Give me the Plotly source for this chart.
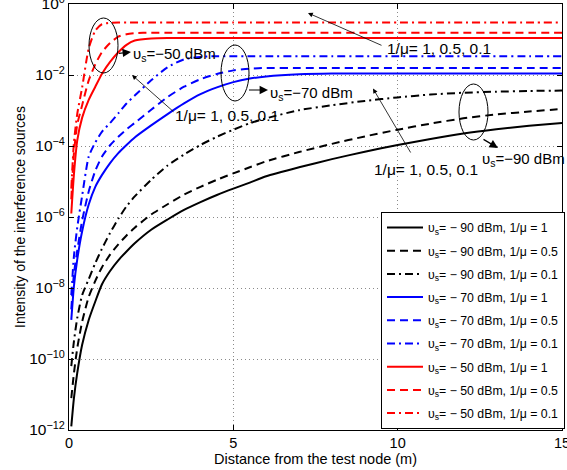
import plotly.graph_objects as go

# Distance from the test node (m)
distance = [0.07, 0.15, 0.25, 0.4, 0.6, 0.8, 1.0, 1.25, 1.5, 1.75, 2.0, 2.5, 3.0, 3.5,
            4.0, 4.5, 5.0, 5.5, 6.0, 7.0, 8.0, 9.0, 10.0, 11.0, 12.0, 13.0, 14.0, 15.0]

# Intensity of the interference sources, one list per (upsilon_s, 1/mu) pair
m90_mu1 = [1.26e-12, 7.94e-12, 3.98e-11, 2.51e-10, 1.26e-9, 4.17e-9, 1.26e-8, 3.02e-8, 6.03e-8, 1.07e-7,
           1.82e-7, 4.37e-7, 8.51e-7, 1.58e-6, 2.63e-6, 4.17e-6, 6.31e-6, 9.33e-6, 1.41e-5, 2.51e-5,
           4.27e-5, 6.92e-5, 1.07e-4, 1.58e-4, 2.24e-4, 2.95e-4, 3.72e-4, 4.47e-4]
m90_mu05 = [7.94e-12, 3.98e-11, 2.0e-10, 1.12e-9, 5.62e-9, 1.58e-8, 3.80e-8, 8.71e-8, 1.70e-7, 3.02e-7,
            5.01e-7, 1.17e-6, 2.29e-6, 4.27e-6, 7.08e-6, 1.12e-5, 1.70e-5, 2.51e-5, 3.72e-5, 6.76e-5,
            1.15e-4, 1.86e-4, 2.88e-4, 4.27e-4, 6.03e-4, 7.76e-4, 9.33e-4, 1.10e-3]
m90_mu01 = [6.31e-11, 3.16e-10, 1.41e-9, 6.31e-9, 1.78e-8, 5.01e-8, 1.26e-7, 3.55e-7, 8.91e-7, 2.0e-6,
            3.80e-6, 1.12e-5, 2.82e-5, 5.75e-5, 1.07e-4, 1.82e-4, 2.88e-4, 4.37e-4, 6.03e-4, 1.02e-3,
            1.41e-3, 1.86e-3, 2.34e-3, 2.82e-3, 3.16e-3, 3.39e-3, 3.55e-3, 3.63e-3]
m70_mu1 = [1.26e-9, 1.12e-8, 6.31e-8, 3.98e-7, 2.24e-6, 7.08e-6, 1.51e-5, 3.31e-5, 6.31e-5, 1.07e-4,
           1.74e-4, 3.80e-4, 7.94e-4, 1.58e-3, 2.88e-3, 4.47e-3, 6.31e-3, 7.94e-3, 9.12e-3, 1.05e-2,
           1.10e-2, 1.10e-2, 1.10e-2, 1.10e-2, 1.10e-2, 1.10e-2, 1.10e-2, 1.10e-2]
m70_mu05 = [2.51e-9, 2.51e-8, 1.12e-7, 7.94e-7, 5.25e-6, 2.0e-5, 5.01e-5, 1.05e-4, 1.82e-4, 2.95e-4,
            4.47e-4, 1.05e-3, 2.40e-3, 4.68e-3, 7.59e-3, 1.07e-2, 1.35e-2, 1.51e-2, 1.58e-2, 1.58e-2,
            1.58e-2, 1.58e-2, 1.58e-2, 1.58e-2, 1.58e-2, 1.58e-2, 1.58e-2, 1.58e-2]
m70_mu01 = [6.31e-9, 7.94e-8, 5.01e-7, 3.98e-6, 5.01e-5, 1.26e-4, 2.51e-4, 4.47e-4, 8.32e-4, 1.58e-3,
            2.63e-3, 7.08e-3, 1.66e-2, 2.75e-2, 3.24e-2, 3.39e-2, 3.39e-2, 3.39e-2, 3.39e-2, 3.39e-2,
            3.39e-2, 3.39e-2, 3.39e-2, 3.39e-2, 3.39e-2, 3.39e-2, 3.39e-2, 3.39e-2]
m50_mu1 = [1.26e-6, 1.58e-5, 1.41e-4, 6.31e-4, 2.0e-3, 4.68e-3, 1.07e-2, 2.34e-2, 4.37e-2, 7.08e-2,
           9.33e-2, 0.107, 0.110, 0.110, 0.110, 0.110, 0.110, 0.110, 0.110, 0.110,
           0.110, 0.110, 0.110, 0.110, 0.110, 0.110, 0.110, 0.110]
m50_mu05 = [3.16e-6, 6.31e-5, 3.98e-4, 1.41e-3, 7.08e-3, 2.0e-2, 4.37e-2, 7.94e-2, 0.120, 0.141,
            0.151, 0.155, 0.155, 0.155, 0.155, 0.155, 0.155, 0.155, 0.155, 0.155,
            0.155, 0.155, 0.155, 0.155, 0.155, 0.155, 0.155, 0.155]
m50_mu01 = [6.31e-6, 1.26e-4, 7.94e-4, 4.47e-3, 5.62e-2, 0.178, 0.269, 0.295, 0.302, 0.302,
            0.302, 0.302, 0.302, 0.302, 0.302, 0.302, 0.302, 0.302, 0.302, 0.302,
            0.302, 0.302, 0.302, 0.302, 0.302, 0.302, 0.302, 0.302]

legend_names = [
    "υ<sub>s</sub>= − 90 dBm, 1/μ = 1",
    "υ<sub>s</sub>= − 90 dBm, 1/μ = 0.5",
    "υ<sub>s</sub>= − 90 dBm, 1/μ = 0.1",
    "υ<sub>s</sub>= − 70 dBm, 1/μ = 1",
    "υ<sub>s</sub>= − 70 dBm, 1/μ = 0.5",
    "υ<sub>s</sub>= − 70 dBm, 1/μ = 0.1",
    "υ<sub>s</sub>= − 50 dBm, 1/μ = 1",
    "υ<sub>s</sub>= − 50 dBm, 1/μ = 0.5",
    "υ<sub>s</sub>= − 50 dBm, 1/μ = 0.1",
]
series = [m90_mu1, m90_mu05, m90_mu01, m70_mu1, m70_mu05, m70_mu01, m50_mu1, m50_mu05, m50_mu01]

x_ticks = [0, 5, 10, 15]
y_ticks = [1e-12, 1e-10, 1e-8, 1e-6, 1e-4, 1e-2, 1]
y_ticktext = ["10<sup>−12</sup>", "10<sup>−10</sup>", "10<sup>−8</sup>", "10<sup>−6</sup>",
              "10<sup>−4</sup>", "10<sup>−2</sup>", "10<sup>0</sup>"]

COLORS = ["#000000"] * 3 + ["#0000ff"] * 3 + ["#ff0000"] * 3
DASHES = ["solid", "8px,5px", "8px,4px,2px,4px"] * 3

FONT = "Liberation Sans, Arial, Helvetica, sans-serif"

fig = go.Figure()
for i, (name, vals) in enumerate(zip(legend_names, series)):
    fig.add_trace(go.Scatter(
        x=distance, y=vals, name=name, mode="lines",
        line=dict(color=COLORS[i], width=2, dash=DASHES[i], shape="spline", smoothing=0.6),
        legendgroup=f"g{i}",
    ))

# plot-area geometry in canvas pixels
L, R, T, B = 69, 562, 4, 430


def px(x, y):
    return (x - L) / (R - L), (B - y) / (B - T)


annotations = []


def arrow(head, tail, size=1.0, width=1.0, style=2):
    hx, hy = px(*head)
    annotations.append(dict(
        x=hx, y=hy, xref="paper", yref="paper", text="", showarrow=True,
        ax=tail[0] - head[0], ay=tail[1] - head[1], axref="pixel", ayref="pixel",
        arrowhead=style, arrowsize=size, arrowwidth=width, arrowcolor="black", standoff=0,
    ))


def label(text, left, mid, size):
    lx, ly = px(left, mid)
    annotations.append(dict(
        x=lx, y=ly, xref="paper", yref="paper", text=text, showarrow=False,
        xanchor="left", yanchor="middle", font=dict(family=FONT, size=size, color="black"),
    ))


# upsilon_s callouts
arrow((131, 52), (117.5, 53.5), size=1.4, width=1.2)
arrow((268, 90), (247.5, 90), size=1.4, width=1.2)
arrow((498, 148), (482, 138.5), size=1.4, width=1.2)
label("υ<sub>s</sub>=−50 dBm", 131, 55, 15)
label("υ<sub>s</sub>=−70 dBm", 268, 93, 15)
label("υ<sub>s</sub>=−90 dBm", 480, 160, 15)

# 1/mu callouts
arrow((308, 13), (383, 46), size=1.2, width=0.8)
arrow((132, 75), (175, 113), size=1.2, width=0.8)
arrow((373, 88.5), (411.5, 154), size=1.2, width=0.8)
label("1/μ= 1, 0.5, 0.1", 385, 49, 15.5)
label("1/μ= 1, 0.5, 0.1", 173, 115, 15.5)
label("1/μ= 1, 0.5, 0.1", 372, 170, 15.5)

shapes = []
for x0, x1, y0, y1 in [(89, 118, 18, 73), (221, 249, 45, 101), (459, 488, 84, 140)]:
    a0, b0 = px(x0, y1)
    a1, b1 = px(x1, y0)
    shapes.append(dict(type="circle", xref="paper", yref="paper", x0=a0, x1=a1, y0=b0, y1=b1,
                       line=dict(color="black", width=1)))

lx, ly = px(381, 212)

fig.update_layout(
    width=567, height=470,
    margin=dict(l=L, r=567 - R, t=T, b=470 - B, autoexpand=False),
    paper_bgcolor="white", plot_bgcolor="white",
    font=dict(family=FONT, size=14, color="black"),
    showlegend=True,
    legend=dict(
        x=lx, y=ly, xanchor="left", yanchor="top",
        bgcolor="white", bordercolor="black", borderwidth=1,
        font=dict(family=FONT, size=12.3, color="black"),
        traceorder="grouped", tracegroupgap=4.2, itemwidth=36,
    ),
    annotations=annotations,
    shapes=shapes,
)

GRID = dict(showgrid=True, gridcolor="#8a8a8a", griddash="1px,3px", gridwidth=1, zeroline=False)

fig.update_xaxes(
    range=[0, 15], tickvals=x_ticks, ticktext=[str(t) for t in x_ticks],
    showline=True, linecolor="black", linewidth=1, mirror="ticks",
    ticks="inside", ticklen=5, tickcolor="black", ticklabeloverflow="allow", automargin=False,
    tickfont=dict(size=14.5),
    title=dict(text="Distance from the test node (m)", font=dict(size=14.5), standoff=1),
    **GRID,
)
fig.update_yaxes(
    type="log", range=[-12, 0], tickvals=y_ticks, ticktext=y_ticktext,
    showline=True, linecolor="black", linewidth=1, mirror="ticks",
    ticks="inside", ticklen=5, tickcolor="black", ticklabeloverflow="allow", automargin=False,
    tickfont=dict(size=15.5),
    title=dict(text="Intensity of the interference sources", font=dict(size=14), standoff=0),
    **GRID,
)

fig.write_html("out.html")
